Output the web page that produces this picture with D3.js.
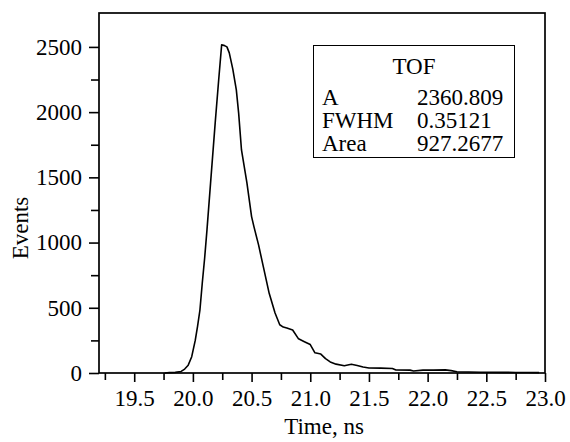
<!DOCTYPE html>
<html><head><meta charset="utf-8">
<script src="https://cdn.jsdelivr.net/npm/d3@7"></script>
<style>body{margin:0;background:#fff}svg{display:block}</style>
</head><body>
<svg id="c" width="570" height="442"></svg>
<script>
const times = [19.76,19.80,19.85,19.90,19.93,19.96,19.99,20.02,20.04,20.06,20.08,20.10,20.12,20.15,20.19,20.22,20.245,20.27,20.29,20.31,20.34,20.37,20.39,20.414,20.46,20.50,20.52,20.56,20.60,20.65,20.70,20.74,20.77,20.80,20.85,20.90,20.95,21.00,21.04,21.09,21.13,21.17,21.22,21.29,21.35,21.40,21.45,21.50,21.60,21.70,21.73,21.85,21.88,21.96,22.05,22.15,22.20,22.25,22.35,22.45,22.55,22.65,22.75,22.85,22.95];
const events = [0,3,5,12,30,60,125,250,360,483,690,880,1097,1450,1918,2250,2516,2510,2500,2454,2330,2171,1990,1710,1460,1199,1122,980,815,611,460,370,352,345,330,262,240,218,155,145,110,85,68,56,67,58,46,38,37,35,23,22,15,22,22,24,18,10,8,6,6,5,4,4,3];
const xMajorTicks = [19.5,20.0,20.5,21.0,21.5,22.0,22.5,23.0];
const xMinorTicks = [19.25,19.75,20.25,20.75,21.25,21.75,22.25,22.75];
const yMajorTicks = [0,500,1000,1500,2000,2500];
const yMinorTicks = [250,750,1250,1750,2250];
const legendTitle = "TOF";
const legendLabels = ["A","FWHM","Area"];
const legendValues = ["2360.809","0.35121","927.2677"];
const xTitle = "Time, ns", yTitle = "Events";

const svg = d3.select("#c");
const L=99, R=545, T=13, B=373;
const font = "'Liberation Serif','Times New Roman',serif";
const fs = 23;
const x = d3.scaleLinear().domain([19.2,23.0]).range([L,R]);
const y = d3.scaleLinear().domain([0,2760]).range([B,T]);

// curve
svg.append("path").datum(times.map((t,i)=>[t,events[i]]))
  .attr("fill","none").attr("stroke","#000").attr("stroke-width",1.6)
  .attr("stroke-linejoin","round")
  .attr("d", d3.line().x(d=>x(d[0])).y(d=>y(d[1])));

// frame
svg.append("rect").attr("x",L).attr("y",T).attr("width",R-L).attr("height",B-T)
  .attr("fill","none").attr("stroke","#000").attr("stroke-width",1.7);

function styleAxis(g){
  g.select(".domain").remove();
  g.selectAll("line").attr("stroke","#000").attr("stroke-width",1.6);
  g.selectAll("text").attr("font-family",font).attr("font-size",fs).attr("fill","#000");
}
svg.append("g").attr("transform",`translate(0,${B})`)
  .call(d3.axisBottom(x).tickValues(xMajorTicks).tickFormat(d3.format(".1f")).tickSize(9).tickPadding(8))
  .call(styleAxis);
svg.append("g").attr("transform",`translate(0,${B})`)
  .call(d3.axisBottom(x).tickValues(xMinorTicks).tickFormat("").tickSize(7))
  .call(styleAxis);
svg.append("g").attr("transform",`translate(${L},0)`)
  .call(d3.axisLeft(y).tickValues(yMajorTicks).tickFormat(d3.format("d")).tickSize(10).tickPadding(7))
  .call(styleAxis);
svg.append("g").attr("transform",`translate(${L},0)`)
  .call(d3.axisLeft(y).tickValues(yMinorTicks).tickFormat("").tickSize(8))
  .call(styleAxis);

svg.append("text").attr("x",324).attr("y",434).attr("text-anchor","middle")
  .attr("font-family",font).attr("font-size",fs).text(xTitle);
svg.append("text").attr("transform","translate(28,228) rotate(-90)").attr("text-anchor","middle")
  .attr("font-family",font).attr("font-size",fs).text(yTitle);

// legend
const lg = svg.append("g");
lg.append("rect").attr("x",313.5).attr("y",45.5).attr("width",201).attr("height",112)
  .attr("fill","#fff").attr("stroke","#000").attr("stroke-width",1);
lg.append("text").attr("x",414).attr("y",74).attr("text-anchor","middle")
  .attr("font-family",font).attr("font-size",fs).text(legendTitle);
legendLabels.forEach((lab,i)=>{
  lg.append("text").attr("x",322).attr("y",105+i*23).attr("font-family",font).attr("font-size",fs).text(lab);
  lg.append("text").attr("x",417).attr("y",105+i*23).attr("font-family",font).attr("font-size",fs).text(legendValues[i]);
});
</script>
</body></html>
